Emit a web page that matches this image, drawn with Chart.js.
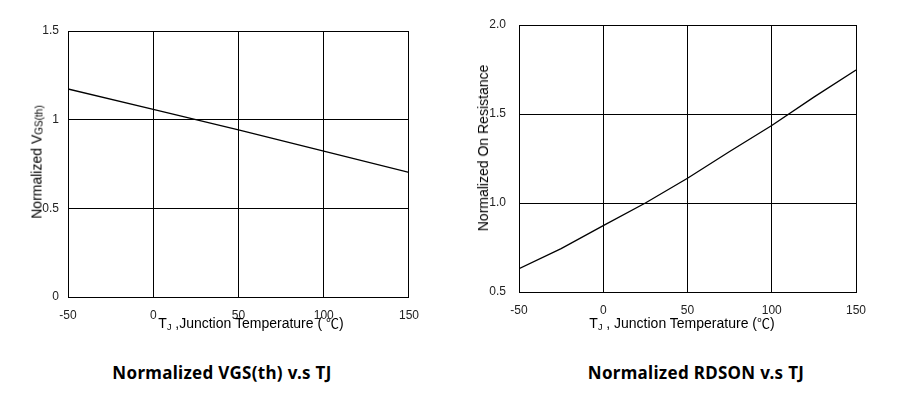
<!DOCTYPE html>
<html><head><meta charset="utf-8">
<script src="https://cdn.jsdelivr.net/npm/chart.js@4"></script>
<style>
body{margin:0;width:898px;height:394px;background:#fff;position:relative;overflow:hidden;font-family:"Liberation Sans",Arial,sans-serif}
canvas{position:absolute;top:0}
.lbl{position:absolute;white-space:nowrap;font-size:14px;color:#000;transform:translate(-50%,-50%);line-height:1}
.ylbl{transform:translate(-50%,-50%) rotate(-90deg)}
.cap{position:absolute;font-family:"Noto Sans",Roboto,sans-serif;font-weight:700;font-size:17px;letter-spacing:0.3px;color:#000;transform:translate(-50%,-50%);white-space:nowrap}
.cj{font-family:"Noto Sans CJK SC",sans-serif;font-size:13px}
sub{font-size:9px;vertical-align:-2px}
.ylbl sub{font-size:10px;vertical-align:-1px}
</style></head>
<body>
<canvas id="c1" width="430" height="345" style="left:0"></canvas>
<canvas id="c2" width="448" height="345" style="left:450px"></canvas>
<div class="lbl ylbl" style="left:37px;top:162px">Normalized V<sub>GS(th)</sub></div>
<div class="lbl" style="left:251px;top:324px">T<sub>J</sub> ,Junction Temperature ( <span class="cj">℃</span>)</div>
<div class="lbl ylbl" style="left:483px;top:148px">Normalized On Resistance</div>
<div class="lbl" style="left:682px;top:324px">T<sub>J</sub> , Junction Temperature (<span class="cj">℃</span>)</div>
<div class="cap" style="left:222px;top:372px">Normalized VGS(th) v.s TJ</div>
<div class="cap" style="left:696px;top:372px">Normalized RDSON v.s TJ</div>
<script>
const tempTicks = [-50, 0, 50, 100, 150];
const vgsTemps = [-50, 0, 50, 100, 150];
const vgsValues = [1.173, 1.058, 0.942, 0.822, 0.703];
const vgsTicks = [0, 0.5, 1, 1.5];
const vgsTickLabels = ['0', '0.5', '1', '1.5'];
const rdsTemps = [-50, -25, 0, 25, 50, 75, 100, 125, 150];
const rdsValues = [0.631, 0.744, 0.873, 1.0, 1.139, 1.289, 1.435, 1.595, 1.747];
const rdsTicks = [0.5, 1.0, 1.5, 2.0];
const rdsTickLabels = ['0.5', '1.0', '1.5', '2.0'];

function makeChart(id, xs, ys, yTicks, yLabels, geom) {
  const cv = document.getElementById(id);
  const W = cv.width, H = cv.height;
  const pts = xs.map((x, i) => ({x: x, y: ys[i]}));
  const tickFont = {family: '"Liberation Sans", Arial, sans-serif', size: 12};
  return new Chart(cv, {
    type: 'line',
    data: {datasets: [{data: pts, borderColor: '#000', borderWidth: 1.3, pointRadius: 0, tension: 0, fill: false}]},
    options: {
      responsive: false, animation: false, devicePixelRatio: 1,
      layout: {padding: {left: 0, top: geom.top, right: W - geom.right, bottom: 0}},
      plugins: {legend: {display: false}, tooltip: {enabled: false}},
      scales: {
        x: {
          type: 'linear', min: tempTicks[0], max: tempTicks[tempTicks.length - 1],
          afterBuildTicks: s => { s.ticks = tempTicks.map(v => ({value: v})); },
          afterFit: s => { s.height = H - geom.bottom; },
          ticks: {color: '#222', font: tickFont, padding: 11, maxRotation: 0, autoSkip: false, callback: v => String(v)},
          grid: {color: '#000', lineWidth: 1, drawTicks: false},
          border: {display: true, color: '#000', width: 1}
        },
        y: {
          type: 'linear', min: yTicks[0], max: yTicks[yTicks.length - 1],
          afterBuildTicks: s => { s.ticks = yTicks.map(v => ({value: v})); },
          afterFit: s => { s.width = geom.left; },
          ticks: {color: '#222', font: tickFont, padding: geom.ypad, autoSkip: false,
            callback: v => { const i = yTicks.indexOf(v); return i >= 0 ? yLabels[i] : ''; }},
          grid: {color: '#000', lineWidth: 1, drawTicks: false},
          border: {display: true, color: '#000', width: 1}
        }
      }
    }
  });
}
makeChart('c1', vgsTemps, vgsValues, vgsTicks, vgsTickLabels, {left: 68, right: 409, top: 31, bottom: 297, ypad: 9});
makeChart('c2', rdsTemps, rdsValues, rdsTicks, rdsTickLabels, {left: 69, right: 406, top: 25, bottom: 292, ypad: 13});
</script>
</body></html>
